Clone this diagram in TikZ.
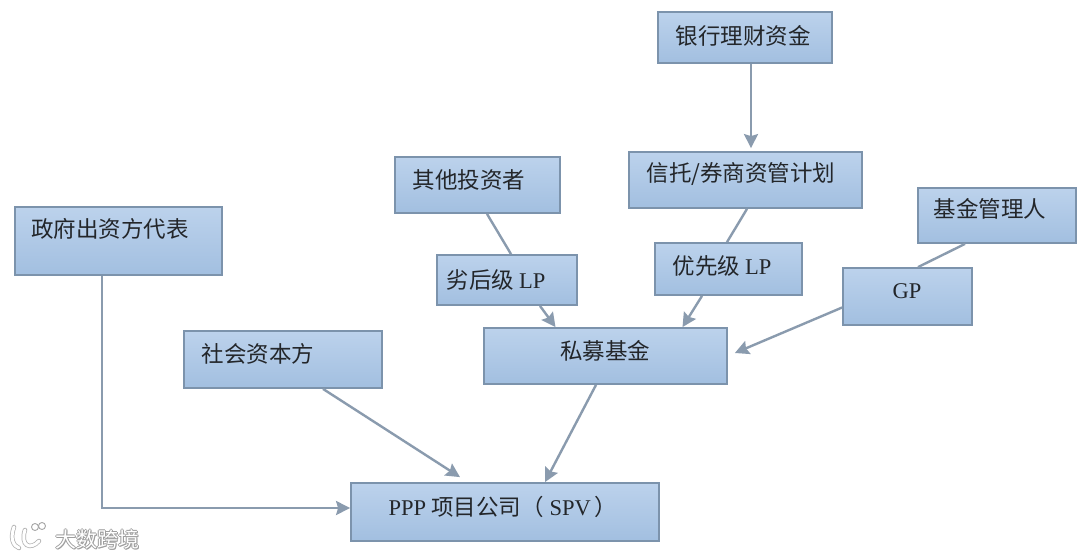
\documentclass[tikz,border=0pt]{standalone}
\usepackage{fontspec}
\setmainfont{Liberation Serif}
\newfontfamily\cjk{Noto Sans CJK SC}
\usetikzlibrary{arrows.meta,calc}
\definecolor{boxtop}{HTML}{BCD2EC}
\definecolor{boxbot}{HTML}{A2BFE0}
\definecolor{boxedge}{HTML}{7C93AC}
\definecolor{linkc}{HTML}{8A9BAE}
\definecolor{inkc}{HTML}{23262A}
\tikzset{
  boxnode/.style={draw=boxedge,line width=1.8pt,top color=boxtop,bottom color=boxbot,inner sep=0pt},
  boxtext/.style={inner sep=0pt,text=inkc,font=\fontsize{22.5}{26}\selectfont\cjk},
  link/.style={draw=linkc,line width=2.4pt},
  arrowlink/.style={link,-{Stealth[length=14pt,width=14pt,inset=2pt]}},
  marktext/.style={inner sep=0pt,font=\fontsize{21}{25}\selectfont\cjk}
}
% name, x1, y1, x2, y2, text x, text y, text
\newcommand{\bxnode}[8]{%
  \node[boxnode,minimum width=#4pt-#2pt,minimum height=#5pt-#3pt] (#1) at ({(#2+#4)/2},{(#3+#5)/2}) {};
  \node[boxtext] (#1t) at (#6,#7) {#8};
}
\begin{document}
\begin{tikzpicture}[x=1pt,y=-1pt]
\useasboundingbox (0,0) rectangle (1080,558);
\fill[white] (0,0) rectangle (1080,558);

\bxnode{bank}{658}{12}{832}{63}{743}{36}{银行理财资金}
\bxnode{trust}{629}{152}{862}{208}{741}{174}{信托/券商资管计划}
\bxnode{other}{395}{157}{560}{213}{469}{180}{其他投资者}
\bxnode{mgr}{918}{188}{1076}{243}{990}{209}{基金管理人}
\bxnode{gov}{15}{207}{222}{275}{110}{229}{政府出资方代表}
\bxnode{sub}{437}{255}{577}{305}{496}{280}{劣后级 {\rmfamily LP}}
\bxnode{pri}{655}{243}{802}{295}{722}{266}{优先级 {\rmfamily LP}}
\bxnode{gp}{843}{268}{972}{325}{907}{291}{\rmfamily GP}
\bxnode{fund}{484}{328}{727}{384}{605}{351}{私募基金}
\bxnode{soc}{184}{331}{382}{388}{258}{354}{社会资本方}
\bxnode{spv}{351}{483}{659}{541}{503}{507}{{\rmfamily PPP} 项目公司（\hspace{6pt}{\rmfamily SPV}\hspace{4pt}）}

\coordinate (govturn) at (102,508);

\draw[arrowlink] ([xshift=6pt]bank.south) -- ([xshift=5.5pt,yshift=3pt]trust.north);
\draw[link] ([xshift=9.5pt]other.south) -- ([xshift=4pt]sub.north);
\draw[link] ([xshift=1.5pt]trust.south) -- ([xshift=-1.5pt]pri.north);
\draw[link] ([xshift=-32pt]mgr.south) -- ([xshift=10.5pt]gp.north);
\draw[arrowlink] ([xshift=33pt]sub.south) -- ([xshift=-50pt]fund.north);
\draw[arrowlink] ([xshift=-26.5pt]pri.south) -- ([xshift=77pt]fund.north);
\draw[arrowlink] ([yshift=-11pt]gp.west) -- ([yshift=3pt,xshift=7pt]fund.east);
\draw[arrowlink] ([xshift=40pt]soc.south) -- ([xshift=-45pt,yshift=5pt]spv.north);
\draw[arrowlink] ([xshift=-9.5pt]fund.south) -- ([xshift=40pt]spv.north);
\draw[arrowlink] ([xshift=-16.5pt]gov.south) -- (govturn) -- (govturn -| spv.west);

% watermark
\foreach \dx/\dy in {-1/0,1/0,0/-1,0/1,1/1}
  \node[marktext,text=black!38] at (97.5+\dx,539+\dy) {大数跨境};
\node[marktext,text=white] (mark) at (97.5,539) {大数跨境};
\draw[black!30,line width=4.5pt,line cap=round] (14,527) .. controls (10,538) and (13,546) .. (19,548);
\draw[black!30,line width=4.5pt,line cap=round] (25,530) .. controls (20,545) and (30,551) .. (39,541);
\draw[white,line width=3pt,line cap=round] (14,527) .. controls (10,538) and (13,546) .. (19,548);
\draw[white,line width=3pt,line cap=round] (25,530) .. controls (20,545) and (30,551) .. (39,541);
\draw[black!35,line width=.9pt] (35,527) circle (3.5);
\draw[black!35,line width=.9pt] (42,526) circle (3.5);
\end{tikzpicture}
\end{document}
